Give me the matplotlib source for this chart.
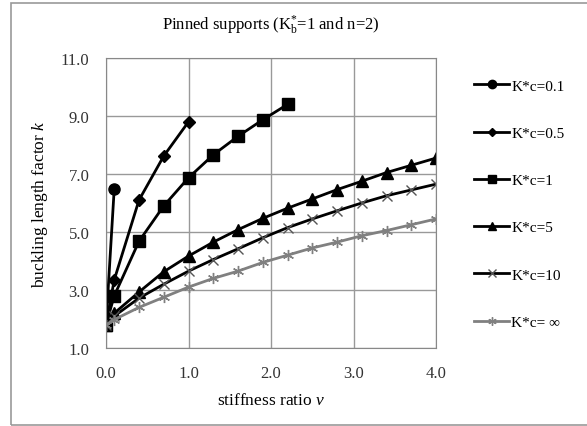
import matplotlib
matplotlib.use("Agg")
import matplotlib.pyplot as plt
from matplotlib.patches import Rectangle

plt.rcParams["font.family"] = ["Liberation Serif", "DejaVu Serif"]
plt.rcParams["mathtext.fontset"] = "custom"
plt.rcParams["mathtext.rm"] = "Liberation Serif"
plt.rcParams["mathtext.it"] = "Liberation Serif:italic"

# stiffness ratio v
x_01 = [0.0, 0.1]
x_05 = [0.0, 0.1, 0.4, 0.7, 1.0]
x_1 = [0.0, 0.1, 0.4, 0.7, 1.0, 1.3, 1.6, 1.9, 2.2]
x_long = [0.0, 0.1, 0.4, 0.7, 1.0, 1.3, 1.6, 1.9, 2.2, 2.5, 2.8, 3.1, 3.4, 3.7, 4.0]

# buckling length factor k
k_01 = [1.8, 6.5]
k_05 = [1.8, 3.35, 6.1, 7.62, 8.8]
k_1 = [1.8, 2.8, 4.68, 5.9, 6.87, 7.66, 8.3, 8.87, 9.4]
k_5 = [1.8, 2.2, 2.93, 3.63, 4.17, 4.65, 5.08, 5.47, 5.82, 6.14, 6.46, 6.75, 7.05, 7.3, 7.55]
k_10 = [1.8, 2.1, 2.72, 3.2, 3.65, 4.05, 4.42, 4.8, 5.15, 5.45, 5.73, 6.0, 6.25, 6.45, 6.65]
k_inf = [1.8, 1.98, 2.4, 2.75, 3.1, 3.4, 3.65, 3.95, 4.2, 4.45, 4.65, 4.87, 5.05, 5.25, 5.45]

labels = ["K*c=0.1", "K*c=0.5", "K*c=1", "K*c=5", "K*c=10", "K*c= \u221e"]

fig = plt.figure(figsize=(5.87, 4.27), dpi=100)
ax = fig.add_axes([106 / 587, 1 - 349 / 427, 330 / 587, 290 / 427])

# thin grey frame round the whole chart
fig.patches.append(Rectangle((11 / 587, 1 / 427), 1.2, 422 / 427, transform=fig.transFigure,
                             fill=False, edgecolor="#999999", linewidth=1.2))

ax.plot(x_01, k_01, color="black", lw=2, marker="o", ms=8, label=labels[0])
ax.plot(x_05, k_05, color="black", lw=2, marker="D", ms=6, label=labels[1])
ax.plot(x_1, k_1, color="black", lw=2, marker="s", ms=8, label=labels[2])
ax.plot(x_long, k_5, color="black", lw=2, marker="^", ms=8, label=labels[3])
ax.plot(x_long, k_10, color="black", lw=2, marker="x", ms=7, mew=1, mec="#555555", label=labels[4])
ax.plot(x_long, k_inf, color="#808080", lw=2, marker=(6, 2, 0), ms=8, mew=1, label=labels[5])

ax.set_xlim(0, 4)
ax.set_ylim(1, 11)
ax.set_xticks([0, 1, 2, 3, 4])
ax.set_yticks([1, 3, 5, 7, 9, 11])
ax.set_xticklabels(["0.0", "1.0", "2.0", "3.0", "4.0"])
ax.set_yticklabels(["1.0", "3.0", "5.0", "7.0", "9.0", "11.0"])
ax.tick_params(length=0, labelsize=12, colors="#333333")
ax.tick_params(axis="x", pad=12)
ax.tick_params(axis="y", pad=12)
ax.grid(color="#999999", lw=1)
ax.set_axisbelow(True)
for s in ax.spines.values():
    s.set_color("#888888")

ax.set_xlabel(r"stiffness ratio $\mathit{v}$", fontsize=12.5, labelpad=8)
ax.set_ylabel(r"buckling length factor $\mathit{k}$", fontsize=12.5, labelpad=8)
ax.set_title(r"Pinned supports (K$^{*}_{\rm b}$=1 and n=2)", fontsize=12, pad=21)

ax.legend(loc="upper left", bbox_to_anchor=(1.115, 0.928), bbox_transform=ax.transAxes,
          borderaxespad=0, borderpad=0, frameon=False, fontsize=11,
          labelspacing=2.2, handlelength=2.3, handletextpad=0.15, markerscale=0.75)

fig.savefig("out.png", dpi=100)
